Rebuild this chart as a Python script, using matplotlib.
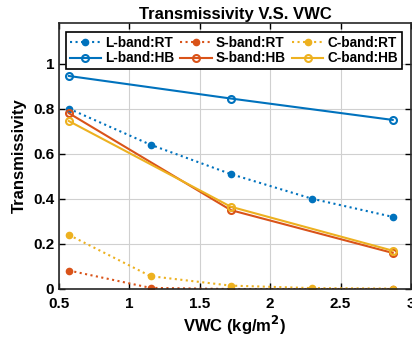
import matplotlib
matplotlib.use('Agg')
import matplotlib.pyplot as plt

plt.rcParams['font.family'] = ['Liberation Sans', 'DejaVu Sans']
plt.rcParams['font.weight'] = 'bold'

vwc = [0.57, 1.15, 1.72, 2.30, 2.87]
vwc_hb = [0.57, 1.72, 2.87]

l_rt = [0.80, 0.64, 0.51, 0.40, 0.32]
s_rt = [0.082, 0.005, 0.0, 0.0, 0.0]
c_rt = [0.24, 0.057, 0.015, 0.004, 0.002]

l_hb = [0.945, 0.845, 0.75]
s_hb = [0.78, 0.35, 0.16]
c_hb = [0.745, 0.365, 0.17]

blue = '#0072BD'
red = '#D95319'
yellow = '#EDB120'

fig = plt.figure(figsize=(4.12, 3.46), dpi=100)
ax = fig.add_axes([59/412, 57/346, 352/412, 266/346])

h1, = ax.plot(vwc, l_rt, ':', color=blue, lw=1.5, marker='o', ms=4.5, label='L-band:RT')
h2, = ax.plot(vwc, s_rt, ':', color=red, lw=1.5, marker='o', ms=4.5, label='S-band:RT')
h3, = ax.plot(vwc, c_rt, ':', color=yellow, lw=1.5, marker='o', ms=4.5, label='C-band:RT')
h4, = ax.plot(vwc_hb, l_hb, '-', color=blue, lw=1.5, marker='o', ms=5, mfc='none', mew=1.5, label='L-band:HB')
h5, = ax.plot(vwc_hb, s_hb, '-', color=red, lw=1.5, marker='o', ms=5, mfc='none', mew=1.5, label='S-band:HB')
h6, = ax.plot(vwc_hb, c_hb, '-', color=yellow, lw=1.5, marker='o', ms=5, mfc='none', mew=1.5, label='C-band:HB')

ax.set_xlim(0.5, 3)
ax.set_ylim(0, 1.18)
ax.set_xticks([0.5, 1, 1.5, 2, 2.5, 3])
ax.set_xticklabels(['0.5', '1', '1.5', '2', '2.5', '3'])
ax.set_yticks([0, 0.2, 0.4, 0.6, 0.8, 1])
ax.set_yticklabels(['0', '0.2', '0.4', '0.6', '0.8', '1'])
ax.tick_params(direction='in', top=True, right=True, labelsize=11, width=1, length=4)
ax.tick_params(axis='x', pad=6)
ax.grid(True, color='#d0d0d0', lw=0.8)
ax.set_axisbelow(True)
for s in ax.spines.values():
    s.set_linewidth(1.2)
    s.set_color('#262626')

ax.set_title('Transmissivity V.S. VWC', fontsize=12, fontweight='bold', pad=3)
ax.set_xlabel('VWC (kg/m$^2$)', fontsize=12, fontweight='bold', labelpad=2)
ax.set_ylabel('Transmissivity', fontsize=12, fontweight='bold', labelpad=4)

# legend fills column-wise, so order so rows read RT then HB
leg = ax.legend([h1, h4, h2, h5, h3, h6],
                ['L-band:RT', 'L-band:HB', 'S-band:RT', 'S-band:HB', 'C-band:RT', 'C-band:HB'],
                ncol=3, loc='upper center', bbox_to_anchor=(0.497, 0.975), fontsize=9.8,
                frameon=True, fancybox=False, edgecolor='black', framealpha=1,
                handlelength=2.3, handletextpad=0.3, columnspacing=0.45,
                labelspacing=0.12, borderpad=0.25, borderaxespad=0.2)
leg.get_frame().set_linewidth(1.2)

fig.savefig('out.png', dpi=100)
